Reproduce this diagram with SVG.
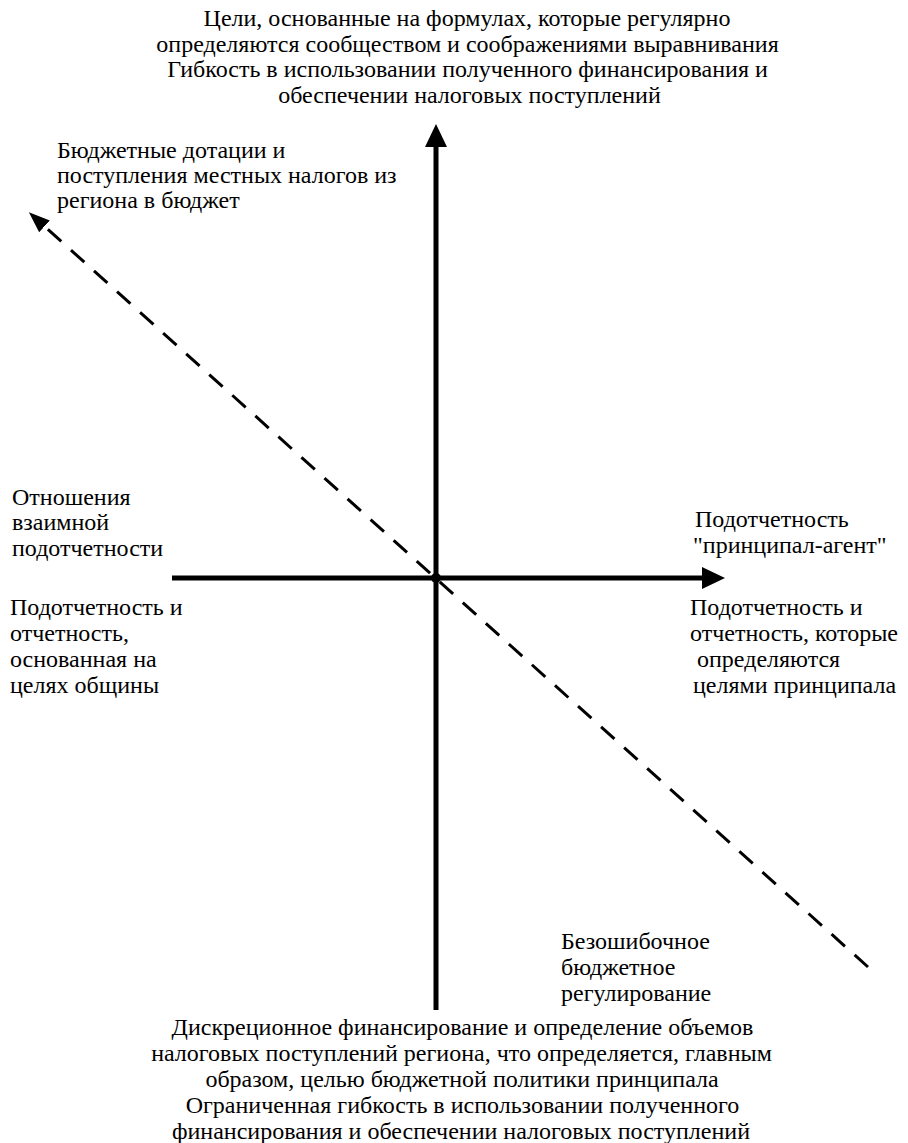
<svg xmlns="http://www.w3.org/2000/svg" width="908" height="1143" viewBox="0 0 908 1143">
<style>
.axis { stroke: #000; stroke-width: 5; fill: none; }
.dash { stroke: #000; stroke-width: 3; fill: none; stroke-dasharray: 18 13; }
</style>
<defs>
<marker id="ah" markerUnits="userSpaceOnUse" markerWidth="24" markerHeight="24" viewBox="0 0 24 24" refX="2" refY="12" orient="auto">
<path d="M0,1 L23,12 L0,23 Z" fill="#000"/>
</marker>
<marker id="ahd" markerUnits="userSpaceOnUse" markerWidth="22" markerHeight="18" viewBox="0 0 22 18" refX="2" refY="9" orient="auto">
<path d="M0,1 L21,9 L0,17 Z" fill="#000"/>
</marker>
</defs>
<rect width="908" height="1143" fill="#fff"/>
<g id="connectors">
<line class="dash" x1="868" y1="967" x2="43" y2="225" marker-end="url(#ahd)"/>
<line class="axis" x1="436" y1="1010" x2="436" y2="145" marker-end="url(#ah)"/>
<line class="axis" x1="172" y1="578" x2="704" y2="578" marker-end="url(#ah)"/>
<circle cx="436" cy="578" r="5" fill="#000"/>
</g>
<g id="top-label" text-anchor="middle">
<text font-family="Liberation Serif" font-size="24" x="467" y="26">Цели, основанные на формулах, которые регулярно</text>
<text font-family="Liberation Serif" font-size="24" x="467.5" y="52">определяются сообществом и соображениями выравнивания</text>
<text font-family="Liberation Serif" font-size="24" x="467.5" y="77">Гибкость в использовании полученного финансирования и</text>
<text font-family="Liberation Serif" font-size="24" x="469.5" y="103">обеспечении налоговых поступлений</text>
</g>
<g id="diag-top-label">
<text font-family="Liberation Serif" font-size="24" x="57" y="158">Бюджетные дотации и</text>
<text font-family="Liberation Serif" font-size="24" x="57" y="183">поступления местных налогов из</text>
<text font-family="Liberation Serif" font-size="24" x="57" y="208">региона в бюджет</text>
</g>
<g id="left-upper-label">
<text font-family="Liberation Serif" font-size="24" x="12" y="505">Отношения</text>
<text font-family="Liberation Serif" font-size="24" x="12" y="530">взаимной</text>
<text font-family="Liberation Serif" font-size="24" x="12" y="556">подотчетности</text>
</g>
<g id="left-lower-label">
<text font-family="Liberation Serif" font-size="24" x="10" y="615">Подотчетность и</text>
<text font-family="Liberation Serif" font-size="24" x="10" y="641">отчетность,</text>
<text font-family="Liberation Serif" font-size="24" x="10" y="667">основанная на</text>
<text font-family="Liberation Serif" font-size="24" x="10" y="693">целях общины</text>
</g>
<g id="right-upper-label">
<text font-family="Liberation Serif" font-size="24" x="695" y="527">Подотчетность</text>
<text font-family="Liberation Serif" font-size="24" x="693" y="553">"принципал-агент"</text>
</g>
<g id="right-lower-label">
<text font-family="Liberation Serif" font-size="24" x="690" y="615">Подотчетность и</text>
<text font-family="Liberation Serif" font-size="24" x="690" y="641">отчетность, которые</text>
<text font-family="Liberation Serif" font-size="24" x="697" y="667">определяются</text>
<text font-family="Liberation Serif" font-size="24" x="693" y="693">целями принципала</text>
</g>
<g id="diag-bottom-label">
<text font-family="Liberation Serif" font-size="24" x="561" y="949">Безошибочное</text>
<text font-family="Liberation Serif" font-size="24" x="561" y="975">бюджетное</text>
<text font-family="Liberation Serif" font-size="24" x="561" y="1001">регулирование</text>
</g>
<g id="bottom-label" text-anchor="middle">
<text font-family="Liberation Serif" font-size="24" x="462.5" y="1035">Дискреционное финансирование и определение объемов</text>
<text font-family="Liberation Serif" font-size="24" x="461.5" y="1061">налоговых поступлений региона, что определяется, главным</text>
<text font-family="Liberation Serif" font-size="24" x="462" y="1087">образом, целью бюджетной политики принципала</text>
<text font-family="Liberation Serif" font-size="24" x="462.5" y="1113">Ограниченная гибкость в использовании полученного</text>
<text font-family="Liberation Serif" font-size="24" x="461" y="1139">финансирования и обеспечении налоговых поступлений</text>
</g>
</svg>
